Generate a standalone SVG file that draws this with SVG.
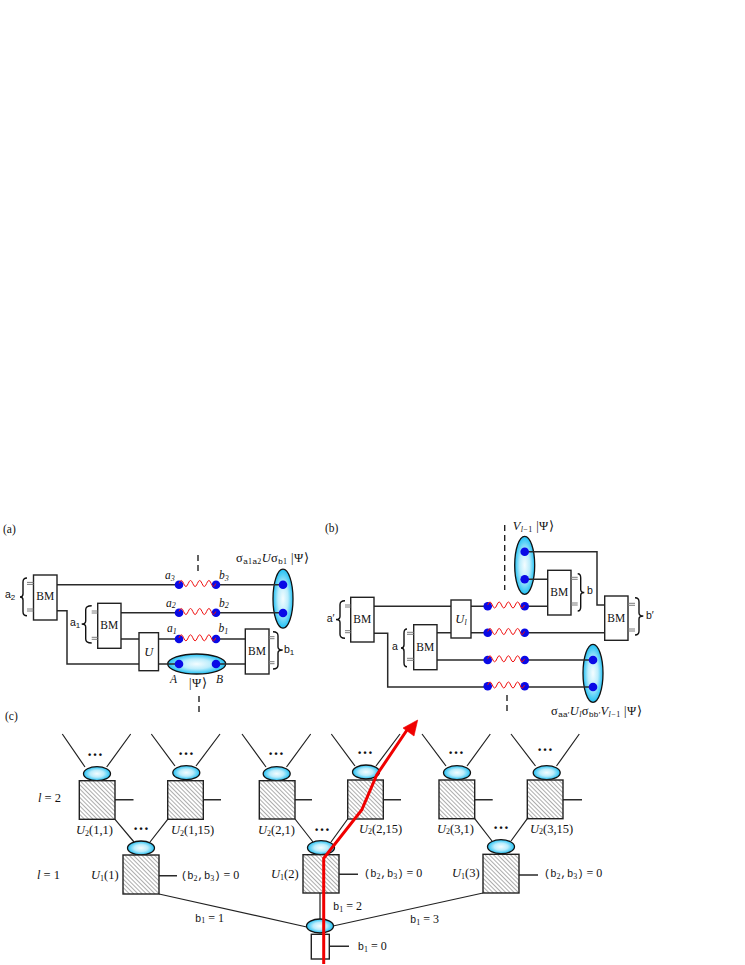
<svg xmlns="http://www.w3.org/2000/svg" xmlns:xlink="http://www.w3.org/1999/xlink" width="745" height="965" viewBox="0 0 745 965">
<style>
text{font-family:"Liberation Serif","Times New Roman",serif;font-size:11.5px;fill:#111}
.i{font-style:italic}
.s{font-family:"Liberation Sans",Arial,sans-serif;font-size:10.5px}
.m{font-family:"Liberation Mono","Courier New",monospace;font-size:10.5px}
.sub{font-size:8px}
.ss{font-family:"Liberation Sans",Arial,sans-serif;font-size:8px}
.lab{font-size:12.5px}
.eq{font-size:12px}
.st{font-size:12.5px;letter-spacing:.4px}
.bm{font-size:11.5px;text-anchor:middle}
.u{font-size:12.5px;text-anchor:middle}
.dots{font-size:16px;font-weight:bold;text-anchor:middle}
.box{fill:#fff;stroke:#222;stroke-width:1.4}
.hbox{fill:url(#hatch);stroke:#222;stroke-width:1.4}
.ell{fill:url(#glow);stroke:#111;stroke-width:1.3}
.dot{fill:#0a0ae6}
.w{fill:none;stroke:#2a2a2a;stroke-width:1.5}
.t{fill:none;stroke:#222;stroke-width:1.2}
.br{fill:none;stroke:#111;stroke-width:1.4}
.g{fill:none;stroke:#7c7c7c;stroke-width:1}
.d{fill:none;stroke:#222;stroke-width:1.4;stroke-dasharray:6 4}
.wave{fill:none;stroke:#f01010;stroke-width:1}
</style>
<defs>
<radialGradient id="glow"><stop offset="0" stop-color="#f4fdff"/><stop offset=".5" stop-color="#bcedfc"/><stop offset="1" stop-color="#1fc0f4"/></radialGradient>
<pattern id="hatch" width="3" height="3" patternUnits="userSpaceOnUse" patternTransform="rotate(45)"><rect width="3" height="3" fill="#fff"/><rect width="3" height="1" fill="#adadad"/></pattern>
<path id="wv" d="M0 0q2.3 -6 4.6 0t4.6 0t4.6 0t4.6 0t4.6 0t4.6 0t4.6 0t4.6 0"/>
</defs>

<!-- panel a -->
<text x="3" y="533">(a)</text>
<g id="a-ent">
<ellipse class="ell" cx="283" cy="598.7" rx="10" ry="29.5"/>
<ellipse class="ell" cx="196.700" cy="664" rx="29" ry="10"/>
</g>
<g id="a-connectors">
<path class="w" d="M57 584.700H179M216 584.700H283M121 612.700H179M216 612.700H283M121 639H139M158.500 639H179M216 639H245M158.500 664H179M216 664H245M57 610.700H67V664H139"/>
<path class="d" d="M198 555V572M199 696V713"/>
</g>
<g id="a-bm2"><rect class="box" x="33.500" y="575" width="23.500" height="45"/><text class="bm" x="45.200" y="600">BM</text></g>
<g id="a-bm1"><rect class="box" x="97.700" y="603.300" width="23.300" height="45"/><text class="bm" x="109.300" y="628.500">BM</text></g>
<g id="a-u"><rect class="box" x="139" y="632.700" width="19.500" height="38"/><text class="u i" x="148.700" y="655.700">U</text></g>
<g id="a-bmb"><rect class="box" x="245.300" y="629" width="23.700" height="45"/><text class="bm" x="257" y="654.500">BM</text></g>
<g id="a-meas">
<path class="g" d="M27 582.400H33.500M27 584.400H33.500M27 609H33.500M27 611H33.500M91.700 611H97.700M91.700 613H97.700M91.700 637.300H97.700M91.700 639.300H97.700M269 636.700H274.500M269 638.700H274.500M269 661.700H274.500M269 663.700H274.500"/>
<path class="br" d="M27 578q-4 0 -4 4V594q0 3 -3 3q3 0 3 3V611.700q0 4 4 4M91.700 605.700q-6 0 -6 4V621q0 3 -4 3q4 0 4 3V639q0 4 6 4M273 631.700q5 0 5 4V647q0 3 4.700 3q-4.700 0 -4.700 3V665q0 4 -5 4"/>
<text class="s" x="5" y="598">a<tspan class="sub" dy="1.500">2</tspan></text>
<text class="s" x="70" y="626">a<tspan class="sub" dy="1.500">1</tspan></text>
<text class="s" x="284" y="653.300">b<tspan class="sub" dy="1.500">1</tspan></text>
</g>
<g id="a-pairs">
<circle class="dot" cx="179" cy="584.700" r="4.300"/><circle class="dot" cx="216" cy="584.700" r="4.300"/>
<circle class="dot" cx="179" cy="612.700" r="4.300"/><circle class="dot" cx="216" cy="612.700" r="4.300"/>
<circle class="dot" cx="179" cy="639" r="4.300"/><circle class="dot" cx="216" cy="639" r="4.300"/>
<circle class="dot" cx="179" cy="664" r="4.300"/><circle class="dot" cx="216" cy="664" r="4.300"/>
<circle class="dot" cx="283" cy="584.700" r="4.300"/><circle class="dot" cx="283" cy="613" r="4.300"/>
<use xlink:href="#wv" href="#wv" class="wave" x="179" y="583.500"/>
<use xlink:href="#wv" href="#wv" class="wave" x="179" y="611.500"/>
<use xlink:href="#wv" href="#wv" class="wave" x="179" y="637.800"/>
<text class="i" x="165" y="579">a<tspan class="sub" dy="1.500">3</tspan></text>
<text class="i" x="219" y="579">b<tspan class="sub" dy="1.500">3</tspan></text>
<text class="i" x="166" y="606.700">a<tspan class="sub" dy="1.500">2</tspan></text>
<text class="i" x="219" y="606.700">b<tspan class="sub" dy="1.500">2</tspan></text>
<text class="i" x="167" y="632">a<tspan class="sub" dy="1.500">1</tspan></text>
<text class="i" x="218.500" y="632">b<tspan class="sub" dy="1.500">1</tspan></text>
<text class="i" x="170" y="683">A</text>
<text class="i" x="216" y="683">B</text>
<text class="st" x="189" y="687">|Ψ⟩</text>
<text class="st" x="236" y="562.300">σ<tspan class="ss" dy="1.500">a</tspan><tspan class="sub">1</tspan><tspan class="ss">a</tspan><tspan class="sub">2</tspan><tspan class="i" dy="-1.500">U</tspan>σ<tspan class="ss" dy="1.500">b</tspan><tspan class="sub">1</tspan><tspan dy="-1.500"> |Ψ⟩</tspan></text>
</g>

<!-- panel b -->
<text x="325" y="531.700">(b)</text>
<g id="b-ent">
<ellipse class="ell" cx="524.700" cy="565.300" rx="10" ry="29"/>
<ellipse class="ell" cx="593" cy="673.300" rx="10" ry="29"/>
</g>
<g id="b-connectors">
<path class="w" d="M374 606.300H451M471 606.300H487.700M524.700 606.300H547.700M437 632.700H451M471 632.700H487.700M524.700 632.700H604.700M437 660H487.700M524.700 660H593M374 633.300H387.700V687H487.700M524.700 687H593M525 551.700H597V605H604.700M525 579.300H547.700"/>
<path class="d" d="M504.700 525V590M507 695V711"/>
</g>
<g id="b-bmp"><rect class="box" x="350.700" y="597.300" width="23.300" height="44.700"/><text class="bm" x="362.300" y="623">BM</text></g>
<g id="b-bma"><rect class="box" x="413.700" y="624.700" width="23.300" height="45"/><text class="bm" x="425.300" y="650.500">BM</text></g>
<g id="b-u"><rect class="box" x="451" y="600" width="20" height="38"/><text class="u i" x="461" y="623">U<tspan class="sub" dy="1.500">l</tspan></text></g>
<g id="b-bmb"><rect class="box" x="547.700" y="570.300" width="23.300" height="44.700"/><text class="bm" x="559.300" y="596">BM</text></g>
<g id="b-bmbp"><rect class="box" x="604.700" y="596" width="23.300" height="44.300"/><text class="bm" x="616.300" y="621.500">BM</text></g>
<g id="b-meas">
<path class="g" d="M345 605H350.700M345 607H350.700M345 630.700H350.700M345 632.700H350.700M407 632.300H413.700M407 634.300H413.700M407 658.300H413.700M407 660.300H413.700M571 577.300H577.700M571 579.300H577.700M571 603H577.700M571 605H577.700M628 603.300H635M628 605.300H635M628 629H635M628 631H635"/>
<path class="br" d="M345 600.700q-5 0 -5 4V616.500q0 3 -4 3q4 0 4 3V634.300q0 4 5 4M407 629q-3 0 -3 4V645q0 3 -3 3q3 0 3 3V662.700q0 4 3 4M577.700 573.700q3 0 3 4V589.500q0 3 3.600 3q-3.600 0 -3.600 3V607q0 4 -3 4M635 597.700q4 0 4 4V613q0 3 4.300 3q-4.300 0 -4.300 3V631q0 4 -4 4"/>
<text class="s" x="326.700" y="622">a′</text>
<text class="s" x="392" y="649.700">a</text>
<text class="s" x="587" y="594">b</text>
<text class="s" x="646" y="619">b′</text>
</g>
<g id="b-pairs">
<circle class="dot" cx="487.700" cy="606.300" r="4.300"/><circle class="dot" cx="524.700" cy="606.300" r="4.300"/>
<circle class="dot" cx="487.700" cy="632.700" r="4.300"/><circle class="dot" cx="524.700" cy="632.700" r="4.300"/>
<circle class="dot" cx="487.700" cy="660" r="4.300"/><circle class="dot" cx="524.700" cy="660" r="4.300"/>
<circle class="dot" cx="487.700" cy="686.300" r="4.300"/><circle class="dot" cx="524.700" cy="686.300" r="4.300"/>
<circle class="dot" cx="524.700" cy="551.700" r="4.300"/><circle class="dot" cx="524.700" cy="579.300" r="4.300"/>
<circle class="dot" cx="593" cy="660" r="4.300"/><circle class="dot" cx="593" cy="687" r="4.300"/>
<use xlink:href="#wv" href="#wv" class="wave" x="487.700" y="605"/>
<use xlink:href="#wv" href="#wv" class="wave" x="487.700" y="631.500"/>
<use xlink:href="#wv" href="#wv" class="wave" x="487.700" y="658.800"/>
<use xlink:href="#wv" href="#wv" class="wave" x="487.700" y="685"/>
<text class="st" x="512.700" y="530"><tspan class="i">V</tspan><tspan class="i sub" dy="1.500">l</tspan><tspan class="sub">−1</tspan><tspan dy="-1.500"> |Ψ⟩</tspan></text>
<text class="st" x="551" y="715">σ<tspan class="ss" dy="1.500">aa′</tspan><tspan class="i" dy="-1.500">U</tspan><tspan class="i sub" dy="1.500">l</tspan><tspan dy="-1.500">σ</tspan><tspan class="ss" dy="1.500">bb′</tspan><tspan class="i" dy="-1.500">V</tspan><tspan class="i sub" dy="1.500">l</tspan><tspan class="sub">−1</tspan><tspan dy="-1.500"> |Ψ⟩</tspan></text>
</g>

<!-- panel c -->
<text x="5" y="720">(c)</text>
<text class="i lab" x="38" y="801.700">l<tspan font-style="normal"> = 2</tspan></text>
<text class="i lab" x="37" y="879">l<tspan font-style="normal"> = 1</tspan></text>
<g id="c-connectors">
<path class="t" d="M62.300 734L85 767M130.700 734L106.700 767M151.300 734L175 766M220 734L196 766M242 734L266 767M310.700 734L286.500 767M331.300 734L355 766M400 734L376 766M422 734L446 766M490.300 734L467 766M511 734L535.500 766M579.300 734L556.500 766"/>
<path class="t" d="M115 819.300L134 842M167.700 819.300L150 842M295 819L313 842M347.700 819L331 842M474.700 818.700L492 841M527.300 818.700L511 841"/>
<path class="t" d="M159 894L306.700 927M483 893L333 926M320 893V919"/>
<path class="w" d="M115 799.700H133.500M203.300 799.700H221M295 799.700H312M383.300 799.700H401M474.700 799.700H492.700M563 799.700H582M159 875.700H177M339 874.300H358M519 875H538M329.300 946.300H349"/>
</g>
<g id="c-u2-1-1"><ellipse class="ell" cx="97" cy="773.700" rx="13.500" ry="7"/><rect class="hbox" x="79.300" y="780.700" width="35.700" height="38.600"/><text class="dots" x="95" y="756">…</text><text class="lab" x="76" y="834"><tspan class="i">U</tspan><tspan class="sub" dy="1.500">2</tspan><tspan dy="-1.500">(1,1)</tspan></text></g>
<g id="c-u2-1-15"><ellipse class="ell" cx="186.300" cy="772.700" rx="13.500" ry="7"/><rect class="hbox" x="167.700" y="780.700" width="35.600" height="38.600"/><text class="dots" x="186" y="754.500">…</text><text class="lab" x="171" y="834"><tspan class="i">U</tspan><tspan class="sub" dy="1.500">2</tspan><tspan dy="-1.500">(1,15)</tspan></text></g>
<g id="c-u2-2-1"><ellipse class="ell" cx="276.700" cy="773.700" rx="13.500" ry="7"/><rect class="hbox" x="259.300" y="780.700" width="35.700" height="38.300"/><text class="dots" x="276" y="754.500">…</text><text class="lab" x="258" y="834"><tspan class="i">U</tspan><tspan class="sub" dy="1.500">2</tspan><tspan dy="-1.500">(2,1)</tspan></text></g>
<g id="c-u2-2-15"><ellipse class="ell" cx="366" cy="772" rx="13.500" ry="7"/><rect class="hbox" x="347.700" y="780" width="35.600" height="39"/><text class="dots" x="365" y="754">…</text><text class="lab" x="359" y="832.700"><tspan class="i">U</tspan><tspan class="sub" dy="1.500">2</tspan><tspan dy="-1.500">(2,15)</tspan></text></g>
<g id="c-u2-3-1"><ellipse class="ell" cx="457" cy="772.700" rx="13.500" ry="7"/><rect class="hbox" x="439" y="780" width="35.700" height="38.700"/><text class="dots" x="456" y="753.500">…</text><text class="lab" x="437" y="832.700"><tspan class="i">U</tspan><tspan class="sub" dy="1.500">2</tspan><tspan dy="-1.500">(3,1)</tspan></text></g>
<g id="c-u2-3-15"><ellipse class="ell" cx="546.700" cy="772.700" rx="13.500" ry="7"/><rect class="hbox" x="527.300" y="780" width="35.700" height="38.700"/><text class="dots" x="545" y="751">…</text><text class="lab" x="530" y="832.700"><tspan class="i">U</tspan><tspan class="sub" dy="1.500">2</tspan><tspan dy="-1.500">(3,15)</tspan></text></g>
<g id="c-u1-1"><ellipse class="ell" cx="141" cy="848" rx="13.500" ry="7"/><rect class="hbox" x="123" y="855" width="36" height="39"/><text class="dots" x="141" y="829.500">…</text><text class="lab" x="91" y="879"><tspan class="i">U</tspan><tspan class="sub" dy="1.500">1</tspan><tspan dy="-1.500">(1)</tspan></text><text class="eq" x="181" y="879"><tspan class="m">(b</tspan><tspan class="sub" dy="1.500">2</tspan><tspan class="m" dy="-1.500">,b</tspan><tspan class="sub" dy="1.500">3</tspan><tspan class="m" dy="-1.500">)</tspan> = 0</text></g>
<g id="c-u1-2"><ellipse class="ell" cx="321" cy="847.700" rx="13.500" ry="7"/><rect class="hbox" x="303" y="854.700" width="36" height="38.300"/><text class="dots" x="322" y="831">…</text><text class="lab" x="271" y="878"><tspan class="i">U</tspan><tspan class="sub" dy="1.500">1</tspan><tspan dy="-1.500">(2)</tspan></text><text class="eq" x="364" y="877"><tspan class="m">(b</tspan><tspan class="sub" dy="1.500">2</tspan><tspan class="m" dy="-1.500">,b</tspan><tspan class="sub" dy="1.500">3</tspan><tspan class="m" dy="-1.500">)</tspan> = 0</text></g>
<g id="c-u1-3"><ellipse class="ell" cx="501" cy="846.700" rx="13.500" ry="7"/><rect class="hbox" x="483" y="854.300" width="36" height="38.700"/><text class="dots" x="501" y="828.500">…</text><text class="lab" x="452" y="877"><tspan class="i">U</tspan><tspan class="sub" dy="1.500">1</tspan><tspan dy="-1.500">(3)</tspan></text><text class="eq" x="544" y="877"><tspan class="m">(b</tspan><tspan class="sub" dy="1.500">2</tspan><tspan class="m" dy="-1.500">,b</tspan><tspan class="sub" dy="1.500">3</tspan><tspan class="m" dy="-1.500">)</tspan> = 0</text></g>
<g id="c-root"><ellipse class="ell" cx="320" cy="926" rx="13.500" ry="7"/><rect class="box" x="311.300" y="934.300" width="18" height="24.700"/><text class="eq" x="357.700" y="950"><tspan class="m">b</tspan><tspan class="sub" dy="1.500">1</tspan><tspan dy="-1.500"> = 0</tspan></text></g>
<text class="eq" x="195" y="921.700"><tspan class="m">b</tspan><tspan class="sub" dy="1.500">1</tspan><tspan dy="-1.500"> = 1</tspan></text>
<text class="eq" x="333" y="910"><tspan class="m">b</tspan><tspan class="sub" dy="1.500">1</tspan><tspan dy="-1.500"> = 2</tspan></text>
<text class="eq" x="410" y="923"><tspan class="m">b</tspan><tspan class="sub" dy="1.500">1</tspan><tspan dy="-1.500"> = 3</tspan></text>
<g id="c-path">
<path d="M323.700 964V858.300L361.700 810L376.700 775L409 727" fill="none" stroke="#f00000" stroke-width="3"/>
<path d="M417.700 720L414 736L403 728Z" fill="#f00000" stroke="#f00000" stroke-width=".6"/>
</g>
</svg>
